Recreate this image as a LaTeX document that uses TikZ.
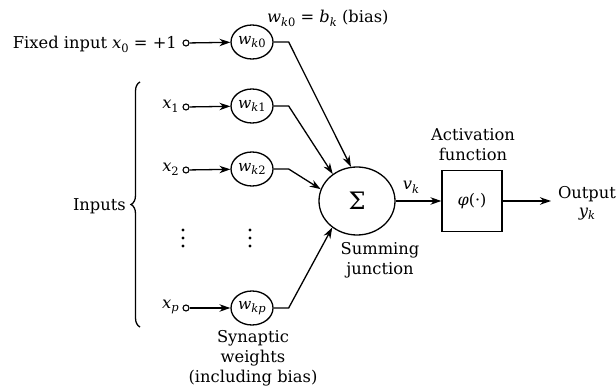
\documentclass[tikz,border=0pt]{standalone}
\usepackage{fontspec}
\setmainfont{DejaVu Serif}
\usetikzlibrary{shapes.geometric,arrows.meta,decorations.pathreplacing}
\newcommand{\vsb}[2]{\textit{#1}\raisebox{-0.45ex}{\fontsize{11.5}{11.5}\selectfont #2}}
\begin{document}
\begin{tikzpicture}[x=1pt,y=-1pt,
  txt/.style={font=\fontsize{16.3}{20}\selectfont, inner sep=0pt, align=center},
  port/.style={circle, draw, line width=1.1pt, minimum size=6pt, inner sep=0pt},
  wt/.style={ellipse, draw, line width=1.3pt, minimum width=42pt, minimum height=34pt, inner sep=0pt, font=\fontsize{15.5}{18}\selectfont},
  conn/.style={line width=1.3pt, -{Stealth[length=11pt,width=7.5pt]}},
  plain/.style={line width=1.3pt}]
\useasboundingbox (0,0) rectangle (616,387);

% rows
\node[txt, anchor=east] (fixed) at (177,44) {Fixed input \vsb{x}{0} = +1};
\node[port] (p0) at (186,43) {};
\node[wt] (w0) at (252,42) {\vsb{w}{\textit{k}0}};
\node[txt, anchor=west] (bias) at (267,18) {\vsb{w}{\textit{k}0} = \vsb{b}{\textit{k}} (bias)};

\node[txt, anchor=east] (x1) at (179,106) {\vsb{x}{1}};
\node[port] (p1) at (186,107) {};
\node[wt] (w1) at (252,106) {\vsb{w}{\textit{k}1}};

\node[txt, anchor=east] (x2) at (179,169) {\vsb{x}{2}};
\node[port] (p2) at (186,170) {};
\node[wt] (w2) at (252,169) {\vsb{w}{\textit{k}2}};

\node[txt, anchor=east] (xp) at (179,307) {\vsb{x}{\textit{p}}};
\node[port] (pp) at (186,308) {};
\node[wt] (wp) at (252,308) {\vsb{w}{\textit{kp}}};

% dots
\foreach \xx in {183,250}{
  \foreach \yy in {230,238,246}{
    \fill (\xx,\yy) circle (1.6pt);
  }
}

% brace and inputs
\coordinate (bb) at (140,327);
\coordinate (bt) at (140,82);
\draw[line width=1.3pt, decorate, decoration={brace, amplitude=9pt}] (bb) -- (bt);
\node[txt, anchor=east] (inputs) at (126,206) {Inputs};

% summing junction
\node[ellipse, draw, line width=1.3pt, minimum width=76pt, minimum height=68pt, inner sep=0pt,
      font=\fontsize{24}{24}\selectfont] (sum) at (357,201) {Σ};
\node[txt] (sumlbl) at (380,260) {Summing\\junction};

% activation box
\node[rectangle, draw, line width=1.3pt, minimum width=60pt, minimum height=61pt, inner sep=0pt,
      font=\fontsize{16}{18}\selectfont] (act) at (472,201) {\textit{φ}(·)};
\node[txt] (actlbl) at (473,145) {Activation\\function};
\node[txt] (vk) at (411,187) {\vsb{v}{\textit{k}}};

% output
\coordinate (outend) at (551,201);
\node[txt] (out) at (587,203) {Output\\[-2pt]\vsb{y}{\textit{k}}};

\node[txt] (syn) at (253,358) {Synaptic\\weights\\(including bias)};

% connectors port -> weights
\draw[conn] (p0) -- (w0);
\draw[conn] (p1) -- (w1);
\draw[conn] (p2) -- (w2);
\draw[conn] (pp) -- (wp);

% weights -> sum
\draw[conn] (w0.east) -- ++(15,0) -- (sum.100);
\draw[conn] (w1.east) -- ++(15,0) -- (sum.132);
\draw[conn] (w2.east) -- ++(15,0) -- (sum.162);
\draw[conn] (wp.east) -- ++(15,0) -- (sum.227);

% sum -> act -> output
\draw[conn] (sum) -- (act);
\draw[conn] (act) -- (outend);
\end{tikzpicture}
\end{document}
